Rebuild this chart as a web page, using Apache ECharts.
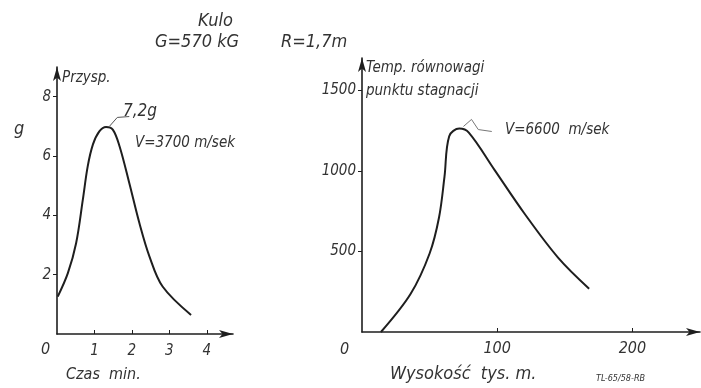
<!DOCTYPE html>
<html>
<head>
<meta charset="utf-8">
<script src="https://cdn.jsdelivr.net/npm/echarts@6/dist/echarts.min.js"></script>
<style>
  html, body { margin: 0; padding: 0; background: #fff; }
  #main { width: 701px; height: 388px; }
</style>
</head>
<body>
<div id="main"></div>
<script>
// lewy wykres: przyspieszenie w funkcji czasu
var accelTime = [0.02, 0.29, 0.51, 0.69, 0.82, 0.96, 1.13, 1.31, 1.49, 1.67, 1.93, 2.2, 2.47, 2.82, 3.58];
var accelValue = [1.26, 2.05, 3.06, 4.53, 5.65, 6.39, 6.83, 6.98, 6.89, 6.33, 5.09, 3.74, 2.61, 1.6, 0.64];
var accelTicks = ["", "1", "2", "3", "4"];

// prawy wykres: temperatura punktu stagnacji w funkcji wysokosci
var height = [14, 36, 50, 57, 61, 64.5, 72, 79, 98, 120, 145, 168];
var temp = [0, 237, 487, 712, 962, 1215, 1262, 1237, 1006, 737, 462, 269];

// linie odniesienia do opisow
var leftLeaderX = [1.4, 1.61, 1.93];
var leftLeaderY = [7.0, 7.3, 7.33];
var rightLeaderX = [75, 81, 86, 96];
var rightLeaderY = [1275, 1319, 1256, 1244];

function zip(a, b) {
  return a.map(function (v, i) { return [v, b[i]]; });
}

var ink = "#1e1e1e";
var font = "DejaVu Sans Condensed";
var chart = echarts.init(document.getElementById("main"));

var axisBase = {
  axisLine: { show: true, symbol: ["none", "arrow"], symbolSize: [6, 14], lineStyle: { color: ink, width: 1.6 } },
  axisTick: { show: true, inside: true, length: 4, lineStyle: { color: ink } },
  splitLine: { show: false },
  axisLabel: {
    color: "#333", fontFamily: font, fontStyle: "italic", fontSize: 15,
    showMinLabel: false, showMaxLabel: false,
    formatter: function (v) { return String(v); }
  }
};

function label(extra) {
  return Object.assign({}, axisBase.axisLabel, extra);
}

function txt(x, y, s, size) {
  return {
    type: "text", left: x, top: y,
    style: { text: s, fill: "#333", font: "italic " + size + "px '" + font + "'" }
  };
}

var curve = { smooth: 0.35, showSymbol: false, lineStyle: { color: ink, width: 2 } };

chart.setOption({
  backgroundColor: "#fff",
  animation: false,
  grid: [
    { left: 57, top: 67, width: 176, bottom: 54 },
    { left: 362, top: 58, right: 1, bottom: 56 }
  ],
  xAxis: [
    Object.assign({}, axisBase, {
      type: "value", gridIndex: 0, min: 0, max: 4.7, interval: 1,
      axisLabel: label({ margin: 10, formatter: function (v) { return accelTicks[v] || ""; } })
    }),
    Object.assign({}, axisBase, {
      type: "value", gridIndex: 1, min: 0, max: 250, interval: 100,
      axisLabel: label({ margin: 9, fontSize: 16 })
    })
  ],
  yAxis: [
    Object.assign({}, axisBase, {
      type: "value", gridIndex: 0, min: 0, max: 9, interval: 2,
      axisTick: { show: true, inside: false, length: 4, lineStyle: { color: ink } },
      axisLabel: label({ margin: 6 })
    }),
    Object.assign({}, axisBase, {
      type: "value", gridIndex: 1, min: 0, max: 1700, interval: 500,
      axisTick: { show: true, inside: false, length: 4, lineStyle: { color: ink } },
      axisLabel: label({ margin: 6 })
    })
  ],
  series: [
    Object.assign({ type: "line", xAxisIndex: 0, yAxisIndex: 0, data: zip(accelTime, accelValue) }, curve),
    Object.assign({ type: "line", xAxisIndex: 1, yAxisIndex: 1, data: zip(height, temp) }, curve),
    {
      type: "line", xAxisIndex: 0, yAxisIndex: 0, showSymbol: false,
      lineStyle: { color: "#555", width: 1 }, data: zip(leftLeaderX, leftLeaderY)
    },
    {
      type: "line", xAxisIndex: 1, yAxisIndex: 1, showSymbol: false,
      lineStyle: { color: "#777", width: 1 }, data: zip(rightLeaderX, rightLeaderY)
    }
  ],
  graphic: [
    txt(198, 12, "Kulo", 18),
    txt(155, 33, "G=570 kG", 18),
    txt(281, 33, "R=1,7m", 18),
    txt(62, 71, "Przysp.", 15),
    txt(14, 120, "g", 18),
    txt(123, 103, "7,2g", 17),
    txt(135, 136, "V=3700 m/sek", 15),
    txt(41, 342, "0", 16),
    txt(66, 367, "Czas  min.", 16),
    txt(366, 61, "Temp. równowagi", 15),
    txt(366, 84, "punktu stagnacji", 15),
    txt(505, 123, "V=6600  m/sek", 15),
    txt(340, 342, "0", 16),
    txt(390, 365, "Wysokość  tys. m.", 18),
    txt(596, 374, "TL-65/58-RB", 9)
  ]
});
</script>
</body>
</html>
